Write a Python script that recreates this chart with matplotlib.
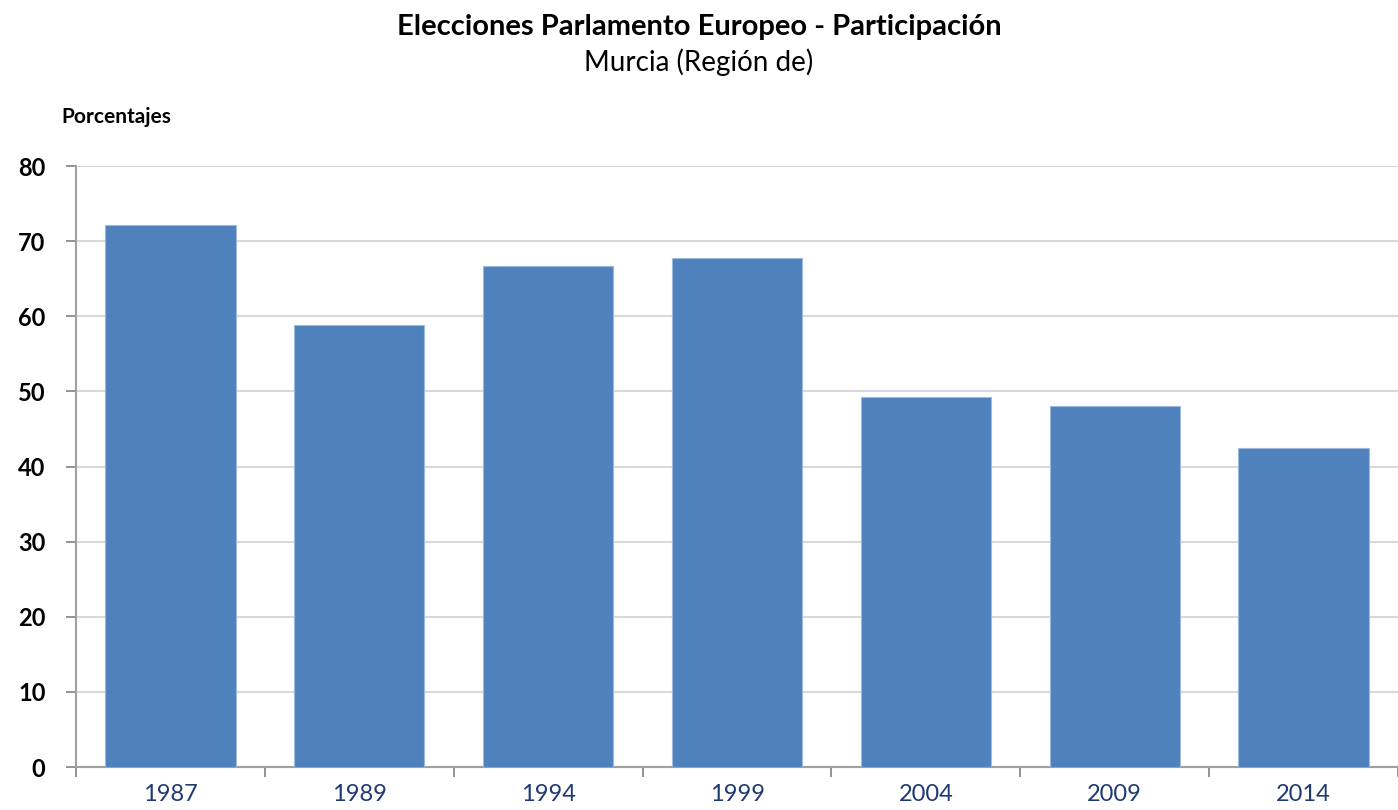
import numpy as np
import matplotlib
matplotlib.use('Agg')
import matplotlib.pyplot as plt

years = ['1987', '1989', '1994', '1999', '2004', '2009', '2014']
participacion = [72.2, 58.9, 66.7, 67.7, 49.2, 48.0, 42.5]

plt.rcParams['font.family'] = ['Lato', 'DejaVu Sans']

fig = plt.figure(figsize=(13.98, 8.10), dpi=100, facecolor='#FFFFFF')
ax = fig.add_axes([0.0544, 0.053, 0.9456, 0.742])

x = np.arange(len(years))
ax.bar(x, participacion, width=0.69, color='#4F81BD', edgecolor='#9DB9DD', linewidth=0.8, zorder=3)

ax.set_xlim(-0.5, len(years) - 0.5)
ax.set_ylim(0, 80)
ax.set_yticks(np.arange(0, 81, 10))
ax.yaxis.grid(True, color='#D9D9D9', linewidth=1.5, zorder=0)

# x ticks at category boundaries, labels centred
ax.set_xticks(np.arange(-0.5, len(years)), minor=False)
ax.set_xticklabels([])
ax.set_xticks(x, minor=True)
ax.set_xticklabels(years, minor=True, fontsize=17, color='#1F3A73')
ax.tick_params(axis='x', which='minor', length=0, pad=12)
ax.tick_params(axis='x', which='major', length=7, color='#808080', width=1.2)
ax.tick_params(axis='y', length=7, color='#808080', width=1.2, pad=15)
for lab in ax.get_yticklabels():
    lab.set_fontsize(17)
    lab.set_fontweight('bold')

for side in ['top', 'right']:
    ax.spines[side].set_visible(False)
for side in ['left', 'bottom']:
    ax.spines[side].set_color('#A0A0A0')
    ax.spines[side].set_linewidth(1.5)

fig.text(0.5, 0.967, 'Elecciones Parlamento Europeo - Participación', ha='center', va='center',
         fontsize=21, fontweight='bold')
fig.text(0.5, 0.923, 'Murcia (Región de)', ha='center', va='center', fontsize=20)
fig.text(0.044, 0.855, 'Porcentajes', ha='left', va='center', fontsize=15, fontweight='bold')

fig.savefig('out.png', dpi=100)
